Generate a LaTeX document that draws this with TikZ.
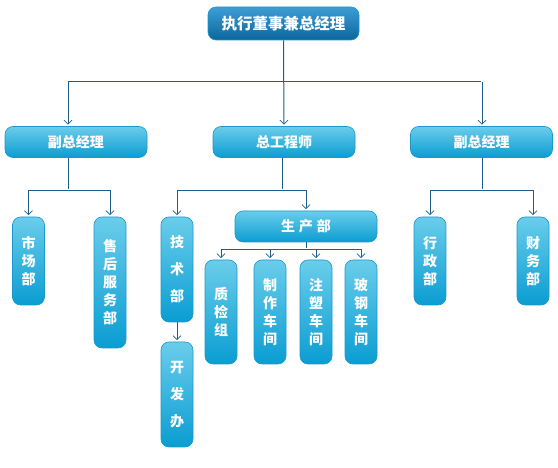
\documentclass[tikz,border=0pt]{standalone}
\usepackage{fontspec}
\newfontfamily\cjk{Noto Sans CJK SC}
\usetikzlibrary{arrows.meta}

\definecolor{linkblue}{HTML}{1D5F8A}
\definecolor{boxtop}{HTML}{6ACDEB}
\definecolor{boxbot}{HTML}{0A9DD2}
\definecolor{boxrim}{HTML}{1B98C8}
\definecolor{headtop}{HTML}{3C9DD4}
\definecolor{headbot}{HTML}{0B679E}

\begin{document}
\begin{tikzpicture}[x=1pt,y=-1pt,
    unit/.style={rounded corners=8pt, draw=boxrim, line width=0.6pt,
      top color=boxtop, bottom color=boxbot, text=white, inner sep=0pt,
      align=center, font=\cjk\bfseries\fontsize{14}{18}\selectfont},
    wide/.style={unit, minimum width=142pt, minimum height=31pt},
    tall/.style={unit, minimum width=32pt},
    link/.style={draw=linkblue, line width=1pt},
    >={Straight Barb[length=4pt,width=8pt,line width=0.8pt]},
    shorten >=1.5pt]
            \useasboundingbox (0,0) rectangle (558,468);

            % top
            \node[unit, minimum width=151pt, minimum height=33pt,
              top color=headtop, bottom color=headbot,
              font=\cjk\bfseries\fontsize{15.5}{18}\selectfont] (ceo) at (283.5,23.5) {执行董事兼总经理};

            % first level
            \node[wide] (vpa) at (76,142) {副总经理};
            \node[wide] (chief) at (284,142) {总工程师};
            \node[wide] (vpb) at (481.5,142) {副总经理};

            % departments
            \node[tall, minimum height=88pt] (market) at (28.5,261) {市\\场\\部};
            \node[tall, minimum height=131pt] (service) at (110,282.5) {售\\后\\服\\务\\部};
            \node[tall, minimum height=105pt] (tech) at (177,269.5) {技\\[9pt]术\\[9pt]部};
            \node[tall, minimum height=105pt] (dev) at (177,394.5) {开\\[9pt]发\\[9pt]办};
            \node[wide] (prod) at (306,226.5) {生\hspace{4pt}产\hspace{4pt}部};
            \node[tall, minimum height=104pt] (qc) at (221,312) {质\\检\\组};
            \node[tall, minimum height=104pt] (make) at (270,312) {制\\作\\车\\间};
            \node[tall, minimum height=104pt] (mold) at (316,312) {注\\塑\\车\\间};
            \node[tall, minimum height=104pt] (frp) at (361,312) {玻\\钢\\车\\间};
            \node[tall, minimum height=88pt] (admin) at (430,261) {行\\政\\部};
            \node[tall, minimum height=88pt] (finance) at (533,261) {财\\务\\部};

            % junctions
            \coordinate (barL) at (68,82);
            \coordinate (barR) at (482,82);
            \coordinate (forkA) at (68,191);
            \coordinate (forkC) at (282,191);
            \coordinate (forkB) at (482,191);
            \coordinate (forkP) at (306,250);

            \draw[link] (barL) -- (barR);
            \draw[link,->] (ceo.south) -- (chief.north);
            \draw[link,->] (barL) -- (barL |- vpa.north);
            \draw[link,->] (barR) -- (barR |- vpb.north);

            \draw[link] (forkA |- vpa.south) -- (forkA);
            \draw[link] (forkC |- chief.south) -- (forkC);
            \draw[link] (forkB |- vpb.south) -- (forkB);
            \draw[link] (prod.south) -- (forkP);

            \foreach \d in {market,service} \draw[link,->] (forkA) -| (\d.north);
            \foreach \d in {tech,prod} \draw[link,->] (forkC) -| (\d.north);
            \foreach \d in {admin,finance} \draw[link,->] (forkB) -| (\d.north);
            \foreach \d in {qc,make,mold,frp} \draw[link,->] (forkP) -| (\d.north);
            \draw[link,->] (tech) -- (dev);
        \end{tikzpicture}
\end{document}
